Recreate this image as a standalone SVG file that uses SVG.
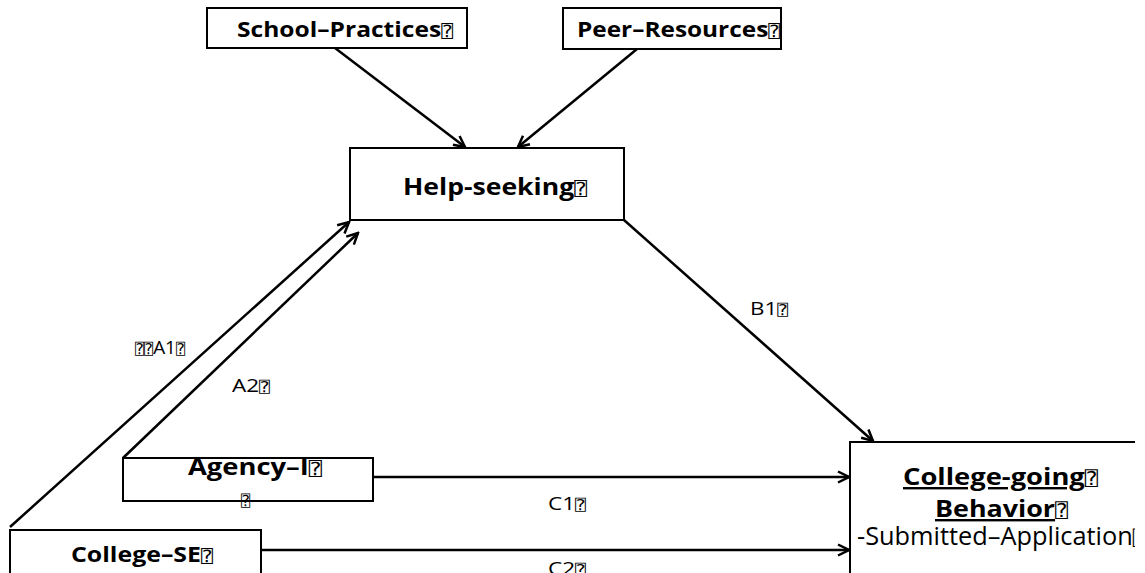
<svg xmlns="http://www.w3.org/2000/svg" width="1145" height="573" viewBox="0 0 1145 573">
<style>
.box{fill:#fff;stroke:#000;stroke-width:2}
.t{font-family:"Open Sans","Liberation Sans",sans-serif;fill:#000}
.b{font-weight:bold}
.lbl{font-size:18.5px}
.q{font-family:"DejaVu Sans Mono","DejaVu Sans",sans-serif;font-weight:normal;font-size:0.8em}
.con{stroke:#000;stroke-width:2.5;fill:none;marker-end:url(#arr)}
</style>
<defs>
<marker id="arr" viewBox="0 0 14 14" refX="12.5" refY="7" markerWidth="14" markerHeight="14" markerUnits="userSpaceOnUse" orient="auto">
<path d="M1.5,1.5 L12.5,7 L1.5,12.5" fill="none" stroke="#000" stroke-width="2.5"/>
</marker>
<clipPath id="clipR"><rect x="0" y="0" width="1135" height="573"/></clipPath>
</defs>
<rect width="1145" height="573" fill="#fff"/>

<g id="connectors">
<line class="con" x1="335" y1="48" x2="465" y2="147"/>
<line class="con" x1="637" y1="49" x2="518" y2="147"/>
<line class="con" x1="10" y1="527" x2="349" y2="222"/>
<line class="con" x1="123" y1="458" x2="358" y2="233"/>
<line class="con" x1="624" y1="220" x2="873" y2="441"/>
<line class="con" x1="373" y1="477" x2="849" y2="477"/>
<line class="con" x1="261" y1="550" x2="849" y2="550"/>
<text class="t lbl" x="135" y="354" textLength="50" lengthAdjust="spacingAndGlyphs"><tspan class="q">⍰⍰</tspan>A1<tspan class="q">⍰</tspan></text>
<text class="t lbl" x="232" y="392" textLength="38" lengthAdjust="spacingAndGlyphs">A2<tspan class="q">⍰</tspan></text>
<text class="t lbl" x="750" y="315" textLength="38" lengthAdjust="spacingAndGlyphs">B1<tspan class="q">⍰</tspan></text>
<text class="t lbl" x="548" y="510" textLength="38" lengthAdjust="spacingAndGlyphs">C1<tspan class="q">⍰</tspan></text>
<text class="t lbl" x="548" y="575" textLength="38" lengthAdjust="spacingAndGlyphs">C2<tspan class="q">⍰</tspan></text>
</g>

<g id="school-practices">
<rect class="box" x="207" y="8" width="260" height="40"/>
<text class="t b" x="237" y="37" font-size="21" textLength="216" lengthAdjust="spacingAndGlyphs">School–Practices<tspan class="q">⍰</tspan></text>
</g>

<g id="peer-resources">
<rect class="box" x="563" y="8" width="218" height="41"/>
<text class="t b" x="577" y="37" font-size="21" textLength="203" lengthAdjust="spacingAndGlyphs">Peer–Resources<tspan class="q">⍰</tspan></text>
</g>

<g id="help-seeking">
<rect class="box" x="350" y="148" width="274" height="72"/>
<text class="t b" x="403" y="195" font-size="22.5" textLength="184" lengthAdjust="spacingAndGlyphs">Help-seeking<tspan class="q">⍰</tspan></text>
</g>

<g id="agency-i">
<rect class="box" x="123" y="458" width="250" height="43"/>
<text class="t b" x="188" y="475" font-size="22.5" textLength="134" lengthAdjust="spacingAndGlyphs">Agency–I<tspan class="q">⍰</tspan></text>
<text class="t" x="241" y="506" font-size="19"><tspan class="q">⍰</tspan></text>
</g>

<g id="college-se">
<rect class="box" x="10" y="530" width="251" height="60"/>
<text class="t b" x="71" y="562" font-size="21" textLength="142" lengthAdjust="spacingAndGlyphs">College–SE<tspan class="q">⍰</tspan></text>
</g>

<g id="college-going-behavior" clip-path="url(#clipR)">
<rect class="box" x="850" y="442" width="320" height="160"/>
<text class="t b" x="903" y="485" font-size="24" text-decoration="underline" textLength="195" lengthAdjust="spacingAndGlyphs">College-going<tspan class="q">⍰</tspan></text>
<text class="t b" x="935" y="517" font-size="24" text-decoration="underline" textLength="133" lengthAdjust="spacingAndGlyphs">Behavior<tspan class="q">⍰</tspan></text>
<text class="t" x="857" y="545" font-size="25" textLength="288" lengthAdjust="spacingAndGlyphs">-Submitted–Application<tspan class="q">⍰</tspan></text>
</g>
</svg>
